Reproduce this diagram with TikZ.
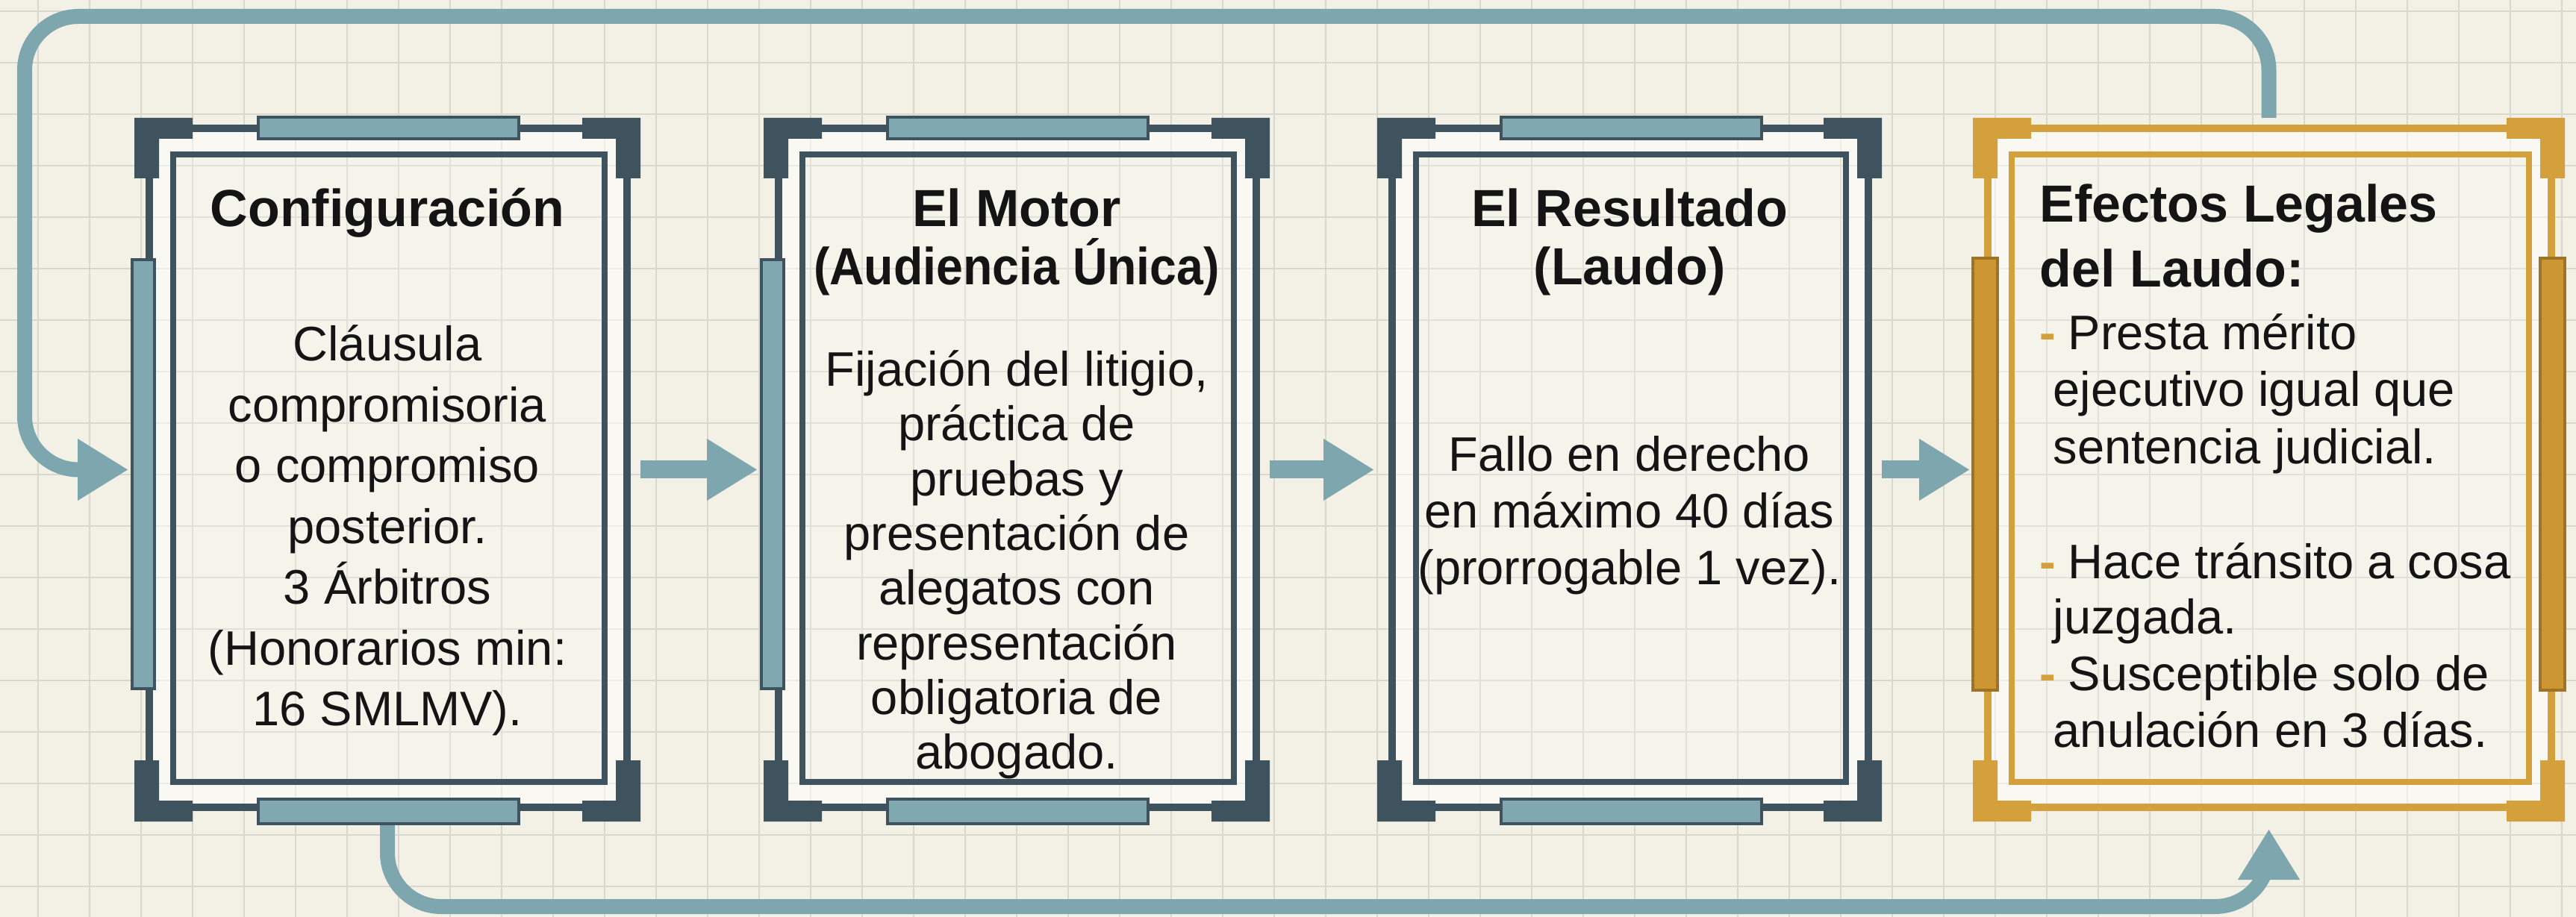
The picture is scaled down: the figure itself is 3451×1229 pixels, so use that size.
\documentclass[tikz,border=0pt]{standalone}
\usepackage{fontspec}
\setmainfont{Liberation Sans}
\newfontfamily\narrowsans{Liberation Sans}[FakeStretch=0.92]
\usetikzlibrary{arrows.meta}
\definecolor{bgc}{HTML}{F3F1E6}
\definecolor{gridc}{HTML}{D9D8CF}
\definecolor{flowc}{HTML}{7DA6AE}
\definecolor{framec}{HTML}{3E535D}
\definecolor{barc}{HTML}{7FA8B0}
\definecolor{goldc}{HTML}{D4A03C}
\definecolor{goldbar}{HTML}{CC9632}
\definecolor{golddk}{HTML}{9E7424}
\definecolor{inkc}{HTML}{141414}

% corner L-pieces of a frame: #1 left x, #2 right x, #3 colour
\newcommand\cornerset[3]{%
  \fill[#3] (#1,158) -- (#1+78,158) -- (#1+78,186) -- (#1+33,186) -- (#1+33,239) -- (#1,239) -- cycle;
  \fill[#3] (#2,158) -- (#2-78,158) -- (#2-78,186) -- (#2-33,186) -- (#2-33,239) -- (#2,239) -- cycle;
  \fill[#3] (#1,1101) -- (#1+78,1101) -- (#1+78,1073) -- (#1+33,1073) -- (#1+33,1019) -- (#1,1019) -- cycle;
  \fill[#3] (#2,1101) -- (#2-78,1101) -- (#2-78,1073) -- (#2-33,1073) -- (#2-33,1019) -- (#2,1019) -- cycle;
}
% double frame: #1 left x, #2 right x, #3 colour
\newcommand\frameset[3]{%
  \fill[white,opacity=.5,even odd rule] (#1+20,172) rectangle (#2-18,1082) (#1+52,207) rectangle (#2-48,1048);
  \fill[white,opacity=.22] (#1+52,207) rectangle (#2-48,1048);
  \draw[#3,line width=2.6pt] (#1+20,172) rectangle (#2-18,1082);
  \draw[#3,line width=2.2pt] (#1+52,207) rectangle (#2-48,1048);
  \cornerset{#1}{#2}{#3}
}
% teal top/bottom bars: #1 left x
\newcommand\hbars[1]{%
  \draw[framec,fill=barc,line width=0.9pt] (#1+166,157) rectangle (#1+515,186);
  \draw[framec,fill=barc,line width=0.9pt] (#1+166,1071) rectangle (#1+515,1104);
}

\begin{document}
\begin{tikzpicture}[x=0.25pt,y=-0.25pt,
  ttl/.style={font=\fontsize{17.5}{21}\selectfont\bfseries, text=inkc, inner sep=0pt, anchor=base},
  txt/.style={font=\fontsize{16.25}{19.5}\selectfont, text=inkc, inner sep=0pt, anchor=base},
  dashc/.style={font=\fontsize{16.25}{19.5}\selectfont\bfseries, text=goldc, inner sep=0pt, anchor=base west},
  flow/.style={flowc, line width=6pt, -{Triangle[length=17pt,width=19.5pt]}},
  loopline/.style={flowc, line width=5pt, rounded corners=18pt, -{Triangle[length=17pt,width=19.5pt]}},
  boxarea/.style={inner sep=0pt, outer sep=0pt, minimum height=235.75pt}]
\useasboundingbox (0,0) rectangle (3451,1229);
\fill[bgc] (0,0) rectangle (3451,1229);
\foreach \gx in {51,120,...,3451} {\draw[gridc,line width=0.6pt] (\gx,0) -- (\gx,1229);}
\foreach \gy in {15,84,...,1229} {\draw[gridc,line width=0.6pt] (0,\gy) -- (3451,\gy);}

% box areas
\node[boxarea, minimum width=169.5pt] (box1) at (519,629.5) {};
\node[boxarea, minimum width=169.5pt] (box2) at (1362,629.5) {};
\node[boxarea, minimum width=169pt] (box3) at (2183,629.5) {};
\node[boxarea, minimum width=198.25pt] (box4) at (3039.5,629.5) {};

% connectors
\coordinate (tr) at (3039.5,22);
\coordinate (tl) at (33,22);
\coordinate (bl) at (33,629.5);
\draw[loopline, shorten >=2pt] (box4.north) -- (tr) -- (tl) -- (bl) -- (box1.west);
\coordinate (bb1) at (519,1215);
\coordinate (bb4) at (3039.5,1215);
\draw[loopline, shorten >=2.5pt] (box1.south) -- (bb1) -- (bb4) -- (box4.south);
\draw[flow, shorten >=2pt] (box1.east) -- (box2.west);
\draw[flow, shorten >=1pt] (box2.east) -- (box3.west);
\draw[flow, shorten >=1pt] (box3.east) -- (box4.west);

% frames
\frameset{180}{858}{framec}
\hbars{180}
\draw[framec,fill=barc,line width=0.9pt] (177,348) rectangle (207,923);
\frameset{1023}{1701}{framec}
\hbars{1023}
\draw[framec,fill=barc,line width=0.9pt] (1020,348) rectangle (1050,923);
\frameset{1845}{2521}{framec}
\hbars{1845}
\frameset{2643}{3436}{goldc}
\draw[golddk,fill=goldbar,line width=0.9pt] (2643,346) rectangle (2676,925);
\draw[golddk,fill=goldbar,line width=0.9pt] (3403,346) rectangle (3436,925);

% box 1 text
\node[ttl] (t1) at (519,304) {Configuración};
\node[txt] (b1a) at (519,484) {Cláusula};
\node[txt] (b1b) at (519,565.5) {compromisoria};
\node[txt] (b1c) at (519,647) {o compromiso};
\node[txt] (b1d) at (519,728.5) {posterior.};
\node[txt] (b1e) at (519,810) {3 Árbitros};
\node[txt] (b1f) at (519,891.5) {(Honorarios min:};
\node[txt] (b1g) at (519,973) {16 SMLMV).};

% box 2 text
\node[ttl] (t2a) at (1362,304) {El Motor};
\node[ttl] (t2b) at (1362,382) {\narrowsans\bfseries (Audiencia Única)};
\node[txt] (b2a) at (1362,518) {Fijación del litigio,};
\node[txt] (b2b) at (1362,591) {práctica de};
\node[txt] (b2c) at (1362,665) {pruebas y};
\node[txt] (b2d) at (1362,738) {presentación de};
\node[txt] (b2e) at (1362,811) {alegatos con};
\node[txt] (b2f) at (1362,885) {representación};
\node[txt] (b2g) at (1362,958) {obligatoria de};
\node[txt] (b2h) at (1362,1031) {abogado.};

% box 3 text
\node[ttl] (t3a) at (2183,304) {El Resultado};
\node[ttl] (t3b) at (2183,382) {(Laudo)};
\node[txt] (b3a) at (2183,632) {Fallo en derecho};
\node[txt] (b3b) at (2183,708) {en máximo 40 días};
\node[txt] (b3c) at (2183,784) {(prorrogable 1 vez).};

% box 4 text
\node[ttl, anchor=base west] (t4a) at (2732,298) {Efectos Legales};
\node[ttl, anchor=base west] (t4b) at (2732,385) {del Laudo:};
\node[dashc] (d4a) at (2732,469) {-};
\node[txt, anchor=base west] (b4a) at (2770,469) {Presta mérito};
\node[txt, anchor=base west] (b4b) at (2750,545) {ejecutivo igual que};
\node[txt, anchor=base west] (b4c) at (2750,622) {sentencia judicial.};
\node[dashc] (d4b) at (2732,775) {-};
\node[txt, anchor=base west] (b4d) at (2770,775) {Hace tránsito a cosa};
\node[txt, anchor=base west] (b4e) at (2750,849) {juzgada.};
\node[dashc] (d4c) at (2732,925) {-};
\node[txt, anchor=base west] (b4f) at (2770,925) {Susceptible solo de};
\node[txt, anchor=base west] (b4g) at (2750,1002) {anulación en 3 días.};
\end{tikzpicture}
\end{document}
